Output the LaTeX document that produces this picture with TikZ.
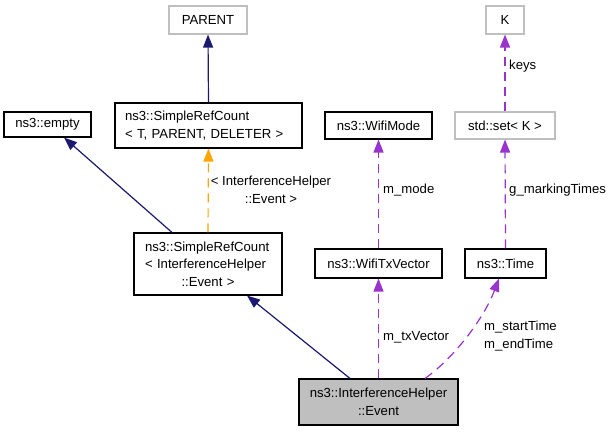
\documentclass[tikz,border=0pt]{standalone}
\usepackage{fontspec}
\setmainfont{Liberation Sans}
\usetikzlibrary{arrows.meta,calc}
\definecolor{navy}{HTML}{191970}
\definecolor{purp}{HTML}{9A32CD}
\definecolor{orng}{HTML}{FFA500}
\definecolor{greyb}{HTML}{BFBFBF}
\definecolor{evfill}{HTML}{BFBFBF}
\begin{document}
\begin{tikzpicture}[x=1bp,y=-1bp,
  txt/.style={font=\fontsize{13.2}{17.5}\selectfont},
  box/.style={txt,draw=black,line width=1.1bp,inner sep=0pt,align=center},
  gbox/.style={box,draw=greyb},
  lbl/.style={txt,inner sep=0pt,anchor=west},
  tip/.style={-{Triangle[length=13bp,width=10bp]}},
  inh/.style={tip,draw=navy,line width=1.2bp},
  use/.style={tip,draw=purp,line width=1.2bp,dash pattern=on 9bp off 6bp},
  tmpl/.style={tip,draw=orng,line width=1.2bp,dash pattern=on 9bp off 6bp}]
\useasboundingbox (0,0) rectangle (612,432);
\fill[white] (0,0) rectangle (612,432);
% nodes
\node[gbox,minimum width=78bp,minimum height=28bp] (parent) at (208,20) {PARENT};
\node[gbox,minimum width=38bp,minimum height=28bp] (k) at (505,20) {K};
\node[box,minimum height=45bp,text width=167bp,inner xsep=10bp,align=left] (src1) at (208.5,125.5)
  {ns3::SimpleRefCount\\< T, PARENT, DELETER >};
\node[box,minimum width=87bp,minimum height=25bp] (empty) at (47.5,124.5) {ns3::empty};
\node[box,minimum width=107bp,minimum height=27bp] (mode) at (378.5,125.5) {ns3::WifiMode};
\node[gbox,minimum width=100bp,minimum height=27bp] (set) at (505,125.5) {std::set< K >};
\node[box,minimum height=62bp,text width=126bp,inner xsep=11bp,align=left] (src2) at (208,264)
  {ns3::SimpleRefCount\\< InterferenceHelper\\\makebox[126bp][c]{::Event >}};
\node[box,minimum width=127bp,minimum height=29bp] (txv) at (378.5,263.5) {ns3::WifiTxVector};
\node[box,minimum width=81bp,minimum height=29bp] (time) at (505.5,263.5) {ns3::Time};
\node[box,fill=evfill,minimum width=159bp,minimum height=46bp] (event) at (378.5,402)
  {ns3::InterferenceHelper\\::Event};
% edges
\draw[inh] (src1.north) -- (parent.south);
\draw[tmpl] (src2.north) -- (src1.south);
\draw[inh] ([xshift=-36bp]src2.north) -- ([xshift=16.5bp]empty.south);
\draw[inh] ([xshift=-28.5bp]event.north) -- ([xshift=39bp]src2.south);
\draw[use] (event.north) -- (txv.south);
\draw[use] (txv.north) -- (mode.south);
\draw[use] (time.north) -- (set.south);
\draw[use] (set.north) -- (k.south);
\draw[use] ([xshift=46.5bp]event.north) .. controls (455,357) and (484,318) .. ([xshift=-6.5bp]time.south);
% labels
\node[txt,inner sep=0pt,align=center] (l1) at (271,190) {< InterferenceHelper\\::Event >};
\node[lbl] (l2) at (383,190) {m\_mode};
\node[lbl] (l3) at (509,190) {g\_markingTimes};
\node[lbl] (l4) at (509,66) {keys};
\node[lbl] (l5) at (383,337) {m\_txVector};
\node[lbl,align=left] (l6) at (484,336) {m\_startTime\\m\_endTime};
\end{tikzpicture}
\end{document}
